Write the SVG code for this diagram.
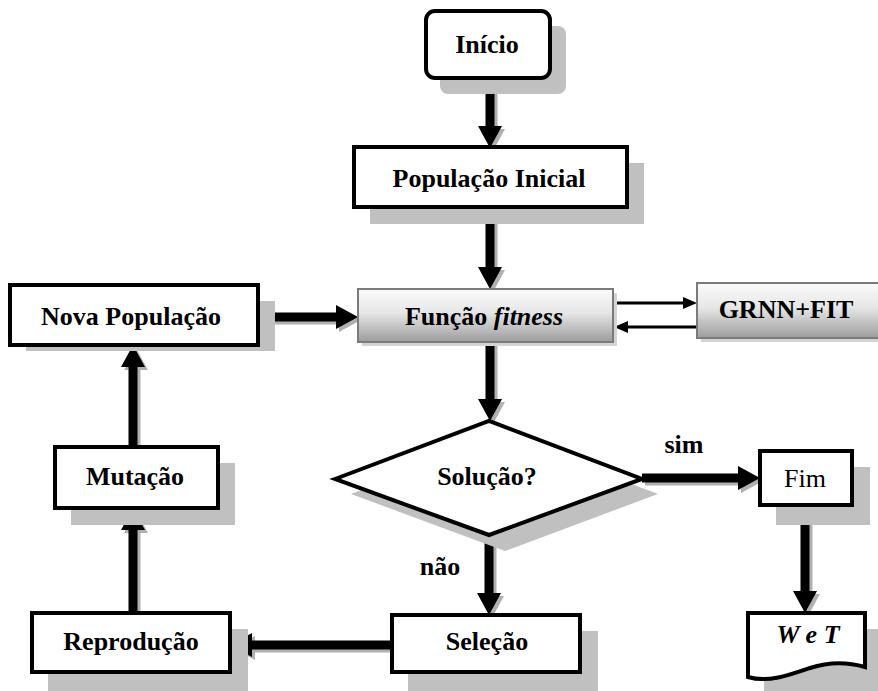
<svg xmlns="http://www.w3.org/2000/svg" width="878" height="691" viewBox="0 0 878 691">
  <style>
    .shadow { fill: #c0c0c0; }
    .box { fill: #ffffff; stroke: #000000; stroke-width: 4; }
    .gbox { fill: url(#grey); stroke: #7a7a7a; stroke-width: 2; }
    .gshadow { fill: #d4d4d4; }
    .arrow { fill: #000000; stroke: none; }
    .arrow-shadow { fill: #b0b0b0; stroke: none; }
    .shaft { stroke: #000000; stroke-width: 9; }
    .shaft-shadow { stroke: #b0b0b0; stroke-width: 9; }
    .thin { stroke: #000000; stroke-width: 3; }
  </style>
  <defs>
    <linearGradient id="grey" x1="0" y1="0" x2="0" y2="1">
      <stop offset="0" stop-color="#fbfbfb"/>
      <stop offset="0.45" stop-color="#e6e6e6"/>
      <stop offset="1" stop-color="#9c9c9c"/>
    </linearGradient>
  </defs>

  <!-- connectors: each thick arrow gets a soft grey copy offset by 3px -->
  <g id="connectors">
    <g transform="translate(3,3)">
      <path class="shaft-shadow" d="M490,78 V126 M490,207 V267 M490,342 V399 M258,317 H336 M642,478 H738 M805,505 V591 M489,535 V593 M392,645 H252 M133,613 V530 M133,447 V367"/>
      <path class="arrow-shadow" d="M478,126 H502 L490,148 Z M478,267 H502 L490,289 Z M478,399 H502 L490,421 Z M336,305 V329 L358,317 Z M738,466 V490 L760,478 Z M793,591 H817 L805,613 Z M477,593 H501 L489,615 Z M252,633 V657 L230,645 Z M121,530 H145 L133,508 Z M121,367 H145 L133,345 Z"/>
    </g>
    <path class="shaft" d="M490,78 V126 M490,207 V267 M490,342 V399 M258,317 H336 M642,478 H738 M805,505 V591 M489,535 V593 M392,645 H252 M133,613 V530 M133,447 V367"/>
    <path class="arrow" d="M478,126 H502 L490,148 Z M478,267 H502 L490,289 Z M478,399 H502 L490,421 Z M336,305 V329 L358,317 Z M738,466 V490 L760,478 Z M793,591 H817 L805,613 Z M477,593 H501 L489,615 Z M252,633 V657 L230,645 Z M121,530 H145 L133,508 Z M121,367 H145 L133,345 Z"/>
    <!-- exchange between Função fitness and GRNN+FIT -->
    <path class="thin" d="M614,303 H683 M697,327 H628"/>
    <path class="arrow" d="M683,297 V309 L697,303 Z M628,321 V333 L614,327 Z"/>
  </g>

  <g id="inicio">
    <rect class="shadow" x="440" y="26" width="126" height="68" rx="8"/>
    <rect class="box" x="426" y="11" width="124" height="67" rx="9"/>
    <text x="487" y="53" font-family="Liberation Serif, serif" font-size="26" font-weight="bold" text-anchor="middle">Início</text>
  </g>

  <g id="populacao-inicial">
    <rect class="shadow" x="370" y="163" width="274" height="61"/>
    <rect class="box" x="354" y="147" width="273" height="60"/>
    <text x="489" y="187" font-family="Liberation Serif, serif" font-size="26" font-weight="bold" text-anchor="middle">População Inicial</text>
  </g>

  <g id="funcao-fitness">
    <rect class="gshadow" x="362" y="293" width="255" height="53"/>
    <rect class="gbox" x="358" y="289" width="255" height="53"/>
    <text x="484" y="325" font-family="Liberation Serif, serif" font-size="26" font-weight="bold" text-anchor="middle">Função <tspan font-style="italic">fitness</tspan></text>
  </g>

  <g id="grnn-fit">
    <rect class="gshadow" x="701" y="287" width="180" height="55"/>
    <rect class="gbox" x="697" y="283" width="182" height="55"/>
    <text x="786" y="318" font-family="Liberation Serif, serif" font-size="26" font-weight="bold" text-anchor="middle">GRNN+FIT</text>
  </g>

  <g id="nova-populacao">
    <rect class="shadow" x="26" y="301" width="249" height="50"/>
    <rect class="box" x="10" y="285" width="248" height="60"/>
    <text x="131" y="325" font-family="Liberation Serif, serif" font-size="26" font-weight="bold" text-anchor="middle">Nova População</text>
  </g>

  <g id="solucao">
    <polygon class="shadow" points="351,494 505,436 658,494 505,551"/>
    <polygon class="box" points="335,479 489,421 642,479 489,535"/>
    <text x="487" y="485" font-family="Liberation Serif, serif" font-size="26" font-weight="bold" text-anchor="middle">Solução?</text>
  </g>

  <g id="fim">
    <rect class="shadow" x="776" y="467" width="94" height="58"/>
    <rect class="box" x="760" y="451" width="92" height="54"/>
    <text x="805" y="487" font-family="Liberation Serif, serif" font-size="26" text-anchor="middle">Fim</text>
  </g>

  <g id="w-e-t">
    <path class="shadow" d="M764,629 H881 V691 H764 Z"/>
    <path class="box" d="M748,613 H865 V667 C848,662 828,662 810,668 C790,675 768,683 748,677 Z"/>
    <text x="808" y="643" font-family="Liberation Serif, serif" font-size="26" font-weight="bold" font-style="italic" text-anchor="middle">W e T</text>
  </g>

  <g id="selecao">
    <rect class="shadow" x="408" y="631" width="190" height="60"/>
    <rect class="box" x="392" y="615" width="188" height="57"/>
    <text x="487" y="650" font-family="Liberation Serif, serif" font-size="26" font-weight="bold" text-anchor="middle">Seleção</text>
  </g>

  <g id="reproducao">
    <rect class="shadow" x="48" y="629" width="200" height="62"/>
    <rect class="box" x="32" y="613" width="198" height="59"/>
    <text x="131" y="650" font-family="Liberation Serif, serif" font-size="26" font-weight="bold" text-anchor="middle">Reprodução</text>
  </g>

  <g id="mutacao">
    <rect class="shadow" x="71" y="463" width="164" height="62"/>
    <rect class="box" x="55" y="447" width="163" height="61"/>
    <text x="135" y="485" font-family="Liberation Serif, serif" font-size="26" font-weight="bold" text-anchor="middle">Mutação</text>
  </g>

  <g id="edge-labels">
    <text x="684" y="453" font-family="Liberation Serif, serif" font-size="26" font-weight="bold" text-anchor="middle">sim</text>
    <text x="440" y="575" font-family="Liberation Serif, serif" font-size="26" font-weight="bold" text-anchor="middle">não</text>
  </g>
</svg>
